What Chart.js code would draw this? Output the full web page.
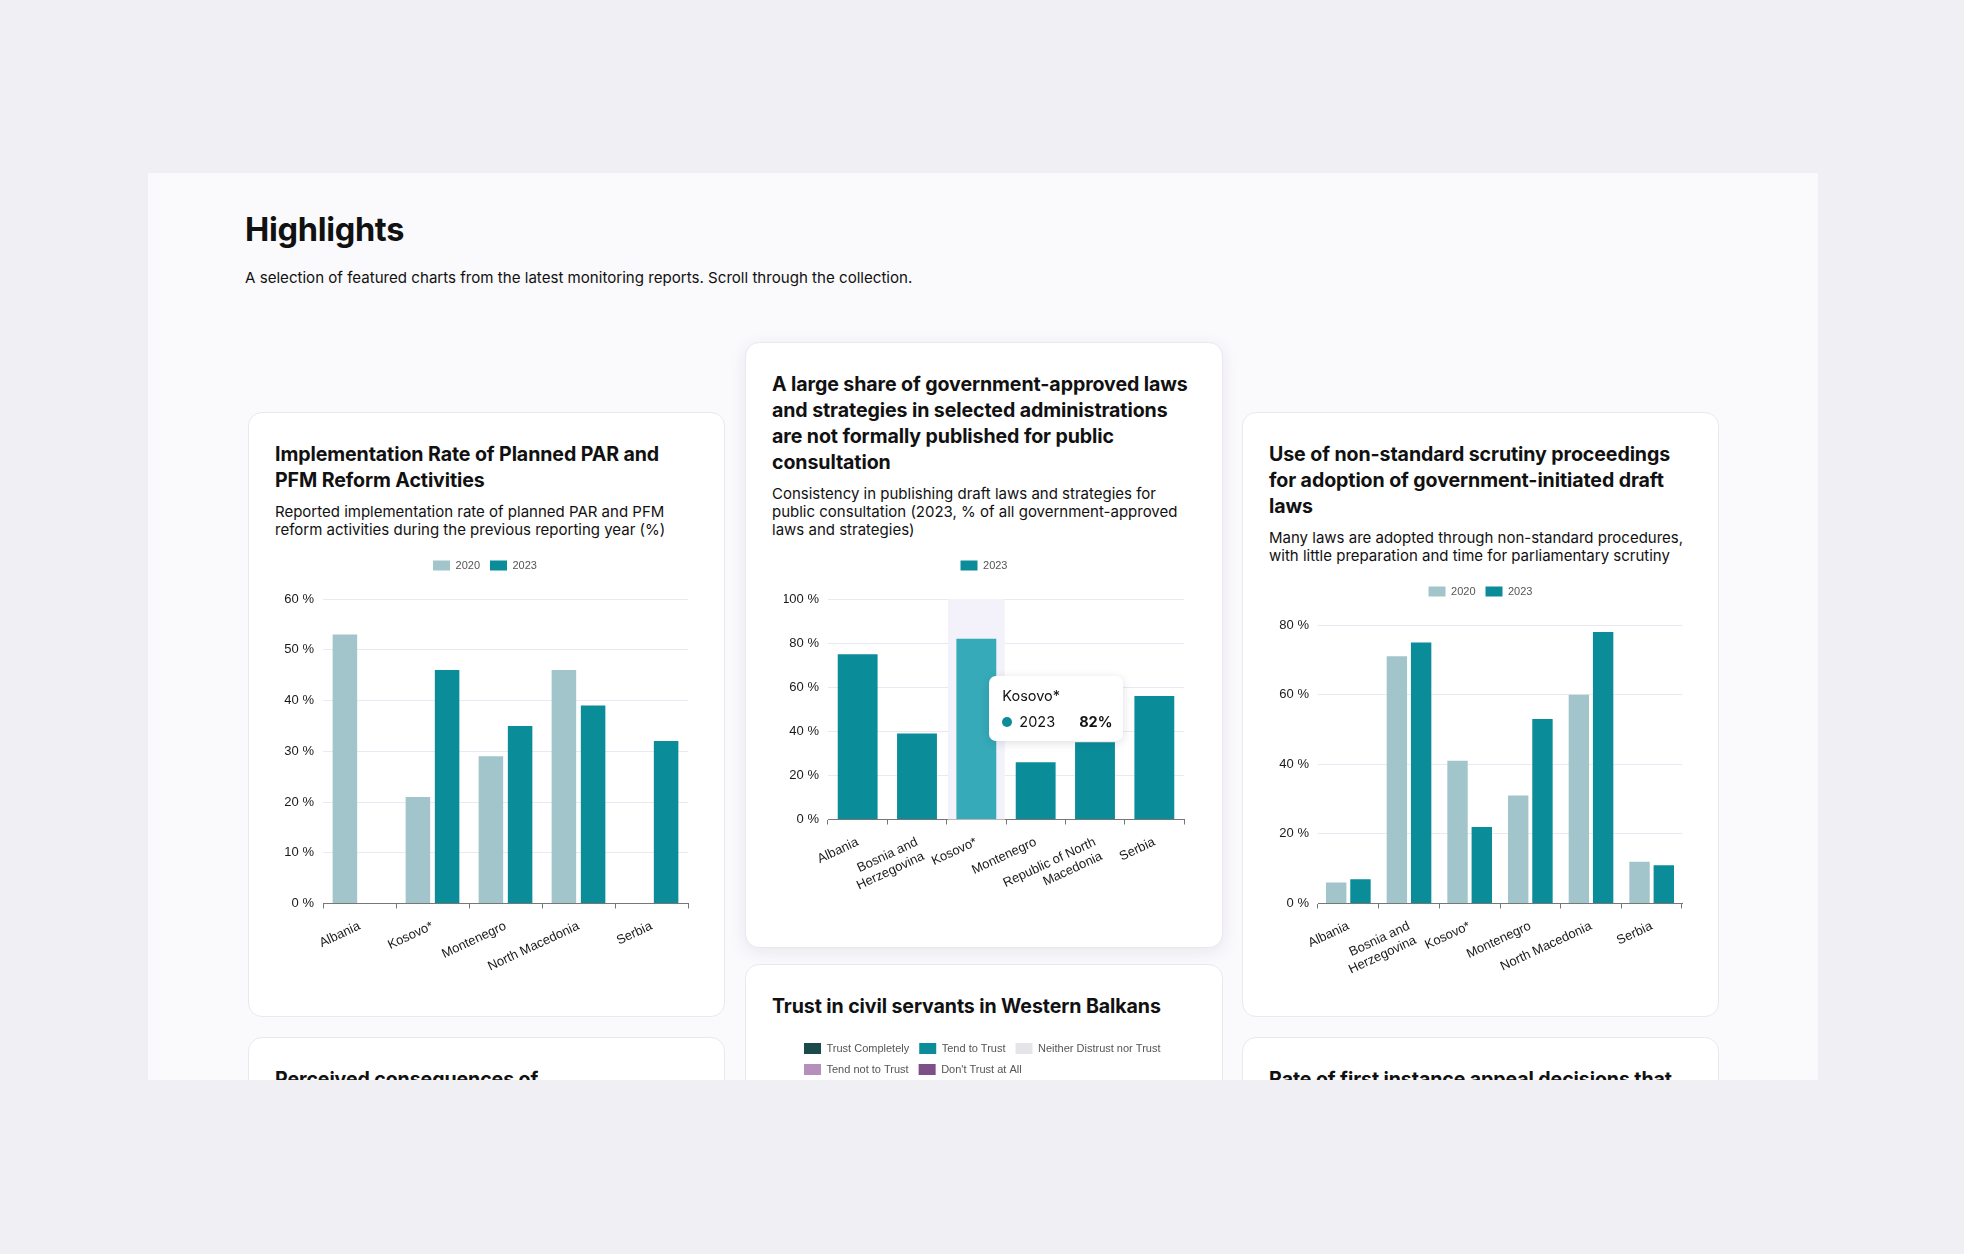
<!DOCTYPE html>
<html>
<head>
<meta charset="utf-8">
<script src="https://cdn.jsdelivr.net/npm/chart.js"></script>
<style>
  html, body { margin: 0; padding: 0; }
  body { width: 1964px; height: 1254px; background: #f0eff3; font-family: Inter, "Noto Sans", sans-serif; color: #111; position: relative; overflow: hidden; }
  .section { position: absolute; left: 148px; top: 173px; width: 1670px; height: 907px; background: #faf9fc; overflow: hidden; }
  h1 { position: absolute; left: 97px; top: 37px; margin: 0; font-size: 32.5px; line-height: 40px; font-weight: 700; letter-spacing: -0.3px; }
  .intro { position: absolute; left: 97px; top: 95px; margin: 0; font-size: 15.1px; line-height: 20px; }
  .card { position: absolute; box-sizing: border-box; width: 477px; height: 605px; padding: 28px 26px 34px 26px; background: #fff; border: 1px solid #e9e8ef; border-radius: 14px; display: flex; flex-direction: column; }
  .card.active { box-shadow: 0 4px 18px rgba(40, 30, 80, 0.08); }
  .card h2 { margin: 0; font-size: 19.6px; line-height: 26px; font-weight: 700; letter-spacing: -0.1px; }
  .card p { margin: 10px 0 0 0; font-size: 15px; line-height: 18px; }
  .chart { position: relative; flex: 1; margin-top: 10.5px; }
  .chart canvas { position: absolute; left: 0; top: 0; }
  .tip { position: absolute; box-sizing: border-box; background: #fff; border-radius: 7px; box-shadow: 0 2px 10px rgba(30, 30, 60, 0.14); padding: 10.7px 11px 8.3px 13px; font-size: 14.5px; line-height: 20px; color: #111; white-space: nowrap; pointer-events: none; }
  .tip .row { display: flex; align-items: center; margin-top: 6px; }
  .tip .dot { width: 10px; height: 10px; border-radius: 50%; margin-right: 7px; }
  .tip b { margin-left: 24px; }
</style>
</head>
<body>
<div class="section">
  <h1>Highlights</h1>
  <div class="intro">A selection of featured charts from the latest monitoring reports. Scroll through the collection.</div>

  <div class="card" style="left:100px; top:239px;">
    <h2>Implementation Rate of Planned PAR and<br>PFM Reform Activities</h2>
    <p>Reported implementation rate of planned PAR and PFM<br>reform activities during the previous reporting year (%)</p>
    <div class="chart"><canvas id="parChart"></canvas></div>
  </div>

  <div class="card active" style="left:597px; top:169px; width:478px; height:606px;">
    <h2>A large share of government-approved laws<br>and strategies in selected administrations<br>are not formally published for public<br>consultation</h2>
    <p>Consistency in publishing draft laws and strategies for<br>public consultation (2023, % of all government-approved<br>laws and strategies)</p>
    <div class="chart" id="consultWrap"><canvas id="consultChart"></canvas></div>
  </div>

  <div class="card" style="left:1094px; top:239px;">
    <h2>Use of non-standard scrutiny proceedings<br>for adoption of government-initiated draft<br>laws</h2>
    <p>Many laws are adopted through non-standard procedures,<br>with little preparation and time for parliamentary scrutiny</p>
    <div class="chart"><canvas id="scrutinyChart"></canvas></div>
  </div>

  <div class="card" style="left:100px; top:864px;">
    <h2>Perceived consequences of</h2>
  </div>

  <div class="card" style="left:597px; top:791px; width:478px;">
    <h2>Trust in civil servants in Western Balkans</h2>
    <div class="chart" style="margin-top:13.5px;"><canvas id="trustChart"></canvas></div>
  </div>

  <div class="card" style="left:1094px; top:864px;">
    <h2>Rate of first instance appeal decisions that</h2>
  </div>
</div>

<script>
// PAR / PFM implementation
const parCountries = ['Albania', 'Kosovo*', 'Montenegro', 'North Macedonia', 'Serbia'];
const par2020 = [53, 21, 29, 46, null];
const par2023 = [null, 46, 35, 39, 32];
const parTicks = [0, 10, 20, 30, 40, 50, 60];

// public consultation
const consultCountries = ['Albania', ['Bosnia and', 'Herzegovina'], 'Kosovo*', 'Montenegro', ['Republic of North', 'Macedonia'], 'Serbia'];
const consult2023 = [75, 39, 82, 26, 35, 56];
const consultTicks = [0, 20, 40, 60, 80, 100];
const hoverIndex = 2;

// non-standard scrutiny
const scrutinyCountries = ['Albania', ['Bosnia and', 'Herzegovina'], 'Kosovo*', 'Montenegro', 'North Macedonia', 'Serbia'];
const scrutiny2020 = [6, 71, 41, 31, 60, 12];
const scrutiny2023 = [7, 75, 22, 53, 78, 11];
const scrutinyTicks = [0, 20, 40, 60, 80];

// trust in civil servants (only the legend is in view)
const trustCategories = ['Trust Completely', 'Tend to Trust', 'Neither Distrust nor Trust', 'Tend not to Trust', "Don't Trust at All"];
const trustColors = ['#1b4a4b', '#0b8c99', '#e4e4e9', '#b68fba', '#7f4f87'];

const light = '#a2c5cc';
const teal = '#0b8c99';
const tealHover = '#36aab8';

Chart.defaults.font.family = 'Arial, "Liberation Sans", Helvetica, sans-serif';
Chart.defaults.color = '#1a1a1a';
Chart.defaults.animation = false;

// extra room under the legend
const legendGap = {
    id: 'legendGap',
    beforeInit(chart) {
        const fit = chart.legend.fit;
        chart.legend.fit = function () {
            fit.bind(chart.legend)();
            this.height += chart.options.plugins.legendGap.extra;
        };
    }
};

// soft column behind the hovered category
const hoverBand = {
    id: 'hoverBand',
    beforeDatasetsDraw(chart) {
        const act = chart.getActiveElements();
        if (!act.length) return;
        const x = chart.scales.x;
        const area = chart.chartArea;
        const w = (x.getPixelForTick(1) - x.getPixelForTick(0)) * 0.96;
        const cx = x.getPixelForValue(act[0].index);
        const c = chart.ctx;
        c.save();
        c.fillStyle = '#f3f2fb';
        c.fillRect(cx - w / 2, area.top, w, area.bottom - area.top);
        c.restore();
    }
};

function makeOptions(ticks, yWidth, xHeight, padLeft, padRight) {
    return {
        responsive: true,
        maintainAspectRatio: false,
        layout: { padding: { left: padLeft, right: padRight, top: 0, bottom: 0 } },
        datasets: { bar: { barPercentage: 0.84 } },
        plugins: {
            legendGap: { extra: 18 },
            legend: {
                labels: { boxWidth: 17, boxHeight: 10, padding: 10, color: '#555', font: { size: 11 } }
            },
            tooltip: { enabled: false }
        },
        scales: {
            x: {
                grid: { display: true, drawOnChartArea: false, tickLength: 5, color: '#777' },
                border: { color: '#777' },
                ticks: { minRotation: 25, maxRotation: 25, autoSkip: false, padding: 10, font: { size: 13 }, color: '#1a1a1a' },
                afterFit: s => { s.height = xHeight; }
            },
            y: {
                min: ticks[0],
                max: ticks[ticks.length - 1],
                grid: { color: '#e8e9f3', drawTicks: false },
                border: { display: false },
                ticks: { stepSize: ticks[1] - ticks[0], padding: 9, font: { size: 13 }, callback: v => v + ' %' },
                afterFit: s => { s.width = yWidth; }
            }
        }
    };
}

new Chart(document.getElementById('parChart'), {
    type: 'bar',
    data: {
        labels: parCountries,
        datasets: [
            { label: '2020', data: par2020, backgroundColor: light },
            { label: '2023', data: par2023, backgroundColor: teal }
        ]
    },
    options: makeOptions(parTicks, 41, 79, 7, 10),
    plugins: [legendGap]
});

const consultOpts = makeOptions(consultTicks, 44, 94, 12, 12);
consultOpts.plugins.tooltip = {
    enabled: false,
    external(context) {
        const wrap = document.getElementById('consultWrap');
        let el = wrap.querySelector('.tip');
        const tt = context.tooltip;
        if (tt.opacity === 0) { if (el) el.remove(); return; }
        if (!el) { el = document.createElement('div'); el.className = 'tip'; wrap.appendChild(el); }
        const pt = tt.dataPoints[0];
        el.innerHTML = '<div>' + tt.title.join(' ') + '</div>' +
            '<div class="row"><span class="dot" style="background:' + teal + '"></span>' +
            pt.dataset.label + '<b>' + pt.raw + '%</b></div>';
        el.style.left = (tt.caretX + 13) + 'px';
        el.style.top = (tt.caretY + 37.5) + 'px';
    }
};

const consultChart = new Chart(document.getElementById('consultChart'), {
    type: 'bar',
    data: {
        labels: consultCountries,
        datasets: [
            { label: '2023', data: consult2023, backgroundColor: teal, hoverBackgroundColor: tealHover }
        ]
    },
    options: consultOpts,
    plugins: [legendGap, hoverBand]
});
const act = [{ datasetIndex: 0, index: hoverIndex }];
const el = consultChart.getDatasetMeta(0).data[hoverIndex];
consultChart.setActiveElements(act);
consultChart.tooltip.setActiveElements(act, { x: el.x, y: el.y });
consultChart.update();

new Chart(document.getElementById('scrutinyChart'), {
    type: 'bar',
    data: {
        labels: scrutinyCountries,
        datasets: [
            { label: '2020', data: scrutiny2020, backgroundColor: light },
            { label: '2023', data: scrutiny2023, backgroundColor: teal }
        ]
    },
    options: makeOptions(scrutinyTicks, 39, 79, 10, 10),
    plugins: [legendGap]
});

new Chart(document.getElementById('trustChart'), {
    type: 'bar',
    data: {
        labels: [],
        datasets: trustCategories.map((c, i) => ({ label: c, data: [], backgroundColor: trustColors[i] }))
    },
    options: {
        responsive: true,
        maintainAspectRatio: false,
        indexAxis: 'y',
        layout: { padding: { left: 22 } },
        plugins: {
            legend: {
                align: 'start',
                labels: { boxWidth: 17, boxHeight: 11, padding: 10, color: '#555', font: { size: 11 } }
            },
            tooltip: { enabled: false }
        },
        scales: { x: { display: false, stacked: true }, y: { display: false, stacked: true } }
    }
});
</script>
</body>
</html>
